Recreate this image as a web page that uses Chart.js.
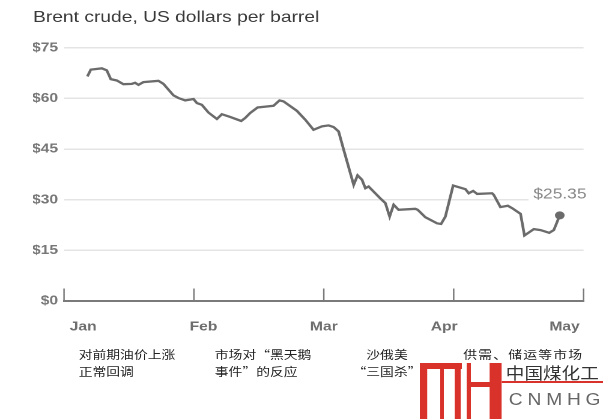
<!DOCTYPE html>
<html lang="zh-CN">
<head>
<meta charset="utf-8">
<script src="https://cdn.jsdelivr.net/npm/chart.js@4.4.0/dist/chart.umd.min.js"></script>
<style>
  html, body { margin: 0; padding: 0; background: #fff; }
  body { width: 603px; height: 419px; overflow: hidden; position: relative; }
  /* la imagen original esta estirada en horizontal, por eso el scaleX */
  #lienzo { position: absolute; left: 0; top: 0; width: 502.5px; height: 419px; transform: scaleX(1.2); transform-origin: 0 0; }
  #caja_grafico { position: absolute; left: 0; top: 0; width: 502.5px; height: 419px; }
  .nota { position: absolute; font-family: "Noto Sans CJK SC"; font-size: 11.5px; line-height: 17px; color: #222; white-space: nowrap; }
  .marca { position: absolute; font-family: "Noto Sans CJK SC", "Liberation Sans"; white-space: nowrap; }
</style>
</head>
<body>
<div id="lienzo">
  <div id="caja_grafico"><canvas id="grafico_brent"></canvas></div>

  <div class="nota" style="left:65.6px; top:345.5px;">对前期油价上涨<br>正常回调</div>
  <div class="nota" style="left:179px; top:345.5px;">市场对“黑天鹅<br>事件”的反应</div>
  <div class="nota" style="left:292.5px; top:345.5px; width:60px; text-align:center;">沙俄美<br>“三国杀”</div>
  <div class="nota" style="left:386px; top:345.5px; letter-spacing:1px;">供需、储运等市场</div>

  <!-- logo -->
  <svg style="position:absolute; left:350px; top:363px;" width="70" height="56">
    <g fill="#d9322b">
      <rect x="0" y="0" width="6" height="56"/>
      <rect x="0" y="0" width="35" height="6"/>
      <rect x="16.7" y="6" width="3.3" height="50"/>
      <rect x="29" y="0" width="5" height="56"/>
      <rect x="39" y="0" width="3.5" height="56"/>
      <rect x="42.5" y="19" width="16" height="5"/>
      <rect x="58" y="0" width="10" height="56"/>
    </g>
  </svg>
  <div style="position:absolute; left:418px; top:381px; width:84.5px; height:2px; background:#d9322b;"></div>
  <div class="marca" style="left:421.5px; top:363px; font-size:15.5px; line-height:18px; color:#333;">中国煤化工</div>
  <div class="marca" style="left:424px; top:391px; font-size:16px; line-height:18px; color:#666; letter-spacing:4px; font-family:'Liberation Sans';">CNMHG</div>
</div>

<script>
/*********-datos-*********/
const TITULO = "Brent crude, US dollars per barrel";
const MESES = ["Jan", "Feb", "Mar", "Apr", "May"];
const Y_TICKS = [0, 15, 30, 45, 60, 75];
// posicion en meses desde el 1 de enero (0 = Jan, 1 = Feb ...)
const POSICION_MES = [
  0.180, 0.206, 0.291, 0.329, 0.360, 0.406, 0.457, 0.522, 0.547, 0.573,
  0.611, 0.727, 0.765, 0.842, 0.881, 0.933, 0.997, 1.023, 1.061, 1.112,
  1.177, 1.215, 1.279, 1.364, 1.395, 1.434, 1.490, 1.613, 1.659, 1.690,
  1.793, 1.857, 1.921, 1.986, 2.037, 2.076, 2.114, 2.153, 2.230, 2.260,
  2.294, 2.320, 2.345, 2.435, 2.474, 2.507, 2.538, 2.576, 2.705, 2.723,
  2.782, 2.872, 2.903, 2.936, 2.996, 3.091, 3.116, 3.150, 3.181, 3.296,
  3.309, 3.360, 3.417, 3.450, 3.515, 3.545, 3.617, 3.669, 3.736, 3.771,
  3.817
];
const PRECIO = [
  66.5, 68.5, 68.9, 68.3, 65.7, 65.3, 64.2, 64.3, 64.6, 64.0,
  64.8, 65.2, 64.3, 60.9, 60.1, 59.4, 59.8, 58.6, 58.1, 55.8,
  53.9, 55.3, 54.5, 53.3, 54.2, 55.7, 57.3, 57.8, 59.4, 59.1,
  56.3, 53.7, 50.7, 51.7, 52.0, 51.5, 50.2, 44.8, 34.4, 37.2,
  35.9, 33.4, 33.9, 30.4, 29.0, 25.0, 28.5, 27.0, 27.3, 27.0,
  24.8, 23.0, 22.8, 25.0, 34.2, 33.1, 31.9, 32.6, 31.7, 31.9,
  31.4, 27.8, 28.2, 27.5, 25.8, 19.4, 21.3, 21.0, 20.2, 21.0,
  25.35
];
const ULTIMO_TEXTO = "$25.35";
//------------------------------------//

const GRIS_LINEA = "#6b6b6b";
const GRIS_EJE = "#7a7a7a";
const ULTIMO = PRECIO.length - 1;

/*********-plugin: marcas de los meses y etiqueta del ultimo precio-*********/
const MARCAS_MES = {
  id: "marcas_mes",
  afterDatasetsDraw(chart) {
    const ctx = chart.ctx;
    const ejeX = chart.scales.x;
    const fondo = chart.chartArea.bottom;
    ctx.save();
    ctx.strokeStyle = GRIS_EJE;
    ctx.lineWidth = 1.25;
    ejeX.ticks.forEach(t => {
      const px = ejeX.getPixelForValue(t.value);
      ctx.beginPath();
      ctx.moveTo(px, fondo);
      ctx.lineTo(px, fondo - 12.5);
      ctx.stroke();
    });

    // etiqueta $25.35
    const punto = chart.getDatasetMeta(0).data[ULTIMO];
    ctx.font = "14.5px 'Liberation Sans'";
    const ancho = ctx.measureText(ULTIMO_TEXTO).width;
    const derecha = punto.x + 22.3;
    const centroY = punto.y - 21;
    ctx.fillStyle = "#fff";
    ctx.fillRect(derecha - ancho - 4, centroY - 8, ancho + 8, 16);
    ctx.fillStyle = "#8a8a8a";
    ctx.textAlign = "right";
    ctx.textBaseline = "middle";
    ctx.fillText(ULTIMO_TEXTO, derecha, centroY);
    ctx.restore();
  }
};
//------------------------------------//

/*********-grafico-*********/
const datos = {
  datasets: [{
    data: POSICION_MES.map((x, i) => ({ x: x, y: PRECIO[i] })),
    borderColor: GRIS_LINEA,
    borderWidth: 2.3,
    tension: 0,
    pointRadius: ctx => ctx.dataIndex === ULTIMO ? 4 : 0,
    pointBackgroundColor: GRIS_LINEA,
    pointBorderWidth: 0
  }]
};

const opciones = {
  responsive: true,
  maintainAspectRatio: false,
  animation: false,
  devicePixelRatio: 2,
  layout: { padding: { left: 27.5, right: 16.7, top: 0, bottom: 78 } },
  plugins: {
    legend: { display: false },
    tooltip: { enabled: false },
    title: {
      display: true,
      text: TITULO,
      align: "start",
      color: "#3a3a3a",
      font: { family: "'Liberation Sans'", size: 16, weight: "normal" },
      padding: { top: 8, bottom: 20.5 }
    }
  },
  scales: {
    x: {
      type: "linear",
      position: "bottom",
      min: 0,
      max: 4,
      afterBuildTicks: eje => { eje.ticks = MESES.map((m, i) => ({ value: i })); },
      afterFit: eje => { eje.height = 0; },
      grid: { display: false },
      border: { display: true, color: GRIS_EJE, width: 2 },
      ticks: { display: false }
    },
    x2: {
      type: "linear",
      position: "bottom",
      min: -0.159,
      max: 4.158,
      afterBuildTicks: eje => { eje.ticks = MESES.map((m, i) => ({ value: i })); },
      afterFit: eje => { eje.height = 40; },
      grid: { display: false },
      border: { display: false },
      ticks: {
        autoSkip: false,
        maxRotation: 0,
        padding: 10,
        color: "#6e6e6e",
        font: { family: "'Liberation Sans'", size: 13, weight: "bold" },
        callback: v => MESES[v]
      }
    },
    y: {
      min: 0,
      max: 75,
      afterBuildTicks: eje => { eje.ticks = Y_TICKS.map(v => ({ value: v })); },
      afterFit: eje => { eje.width = 25.8; },
      grid: { color: "#e4e4e4", lineWidth: 1.5, drawTicks: false },
      border: { display: false },
      ticks: {
        padding: 5,
        color: "#777",
        font: { family: "'Liberation Sans'", size: 13, weight: "bold" },
        callback: v => "$" + v
      }
    }
  }
};

const GRAFICO = document.getElementById("grafico_brent").getContext("2d");
new Chart(GRAFICO, { type: "line", data: datos, options: opciones, plugins: [MARCAS_MES] });
//------------------------------------//
</script>
</body>
</html>
